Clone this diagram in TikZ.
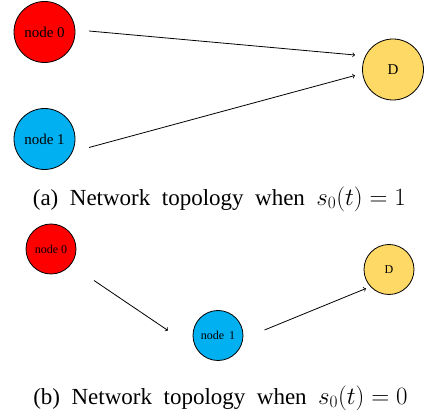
\documentclass[tikz,border=0pt]{standalone}
\usepackage{fontspec}
\setmainfont{Liberation Serif}
\definecolor{nred}{RGB}{255,0,0}
\definecolor{nblue}{RGB}{0,176,240}
\definecolor{nyellow}{RGB}{255,217,102}
\newcommand\wsp{\hspace{11.5pt}}
\tikzset{
  bignode/.style={circle,draw=black,line width=0.8pt,minimum size=61pt,inner sep=0pt,font=\fontsize{15}{18}\selectfont},
  smallnode/.style={circle,draw=black,line width=0.8pt,minimum size=50pt,inner sep=0pt,font=\fontsize{12}{14}\selectfont},
  conn/.style={->,line width=0.8pt},
  captext/.style={font=\fontsize{23}{27}\selectfont,inner sep=0pt}
}
\begin{document}
\begin{tikzpicture}[x=1pt,y=-1pt]
\useasboundingbox (0,0) rectangle (424,417);
% (a)
\node[bignode,fill=nred] (a0) at (44.5,32) {node 0};
\node[bignode,fill=nblue] (a1) at (44.5,139) {node 1};
\node[bignode,fill=nyellow] (aD) at (393,69.5) {D};
\coordinate (a0s) at (89,31);
\coordinate (a0e) at (355,55);
\coordinate (a1s) at (89,147.5);
\coordinate (a1e) at (355,75.5);
\draw[conn] (a0s) -- (a0e);
\draw[conn] (a1s) -- (a1e);
\node[captext] (capa) at (219.4,199) {(a)\wsp Network\wsp topology\wsp when\wsp $s_0(t) = 1$};
% (b)
\node[smallnode,fill=nred] (b0) at (51,249) {node 0};
\node[smallnode,fill=nblue] (b1) at (218,335.5) {node\, 1};
\node[smallnode,fill=nyellow] (bD) at (389,269.5) {D};
\coordinate (b0s) at (94,280.5);
\coordinate (b0e) at (168,330.5);
\coordinate (b1s) at (264.5,330);
\coordinate (b1e) at (366,288.5);
\draw[conn] (b0s) -- (b0e);
\draw[conn] (b1s) -- (b1e);
\node[captext] (capb) at (220.5,398) {(b)\wsp Network\wsp topology\wsp when\wsp $s_0(t) = 0$};
\end{tikzpicture}
\end{document}
